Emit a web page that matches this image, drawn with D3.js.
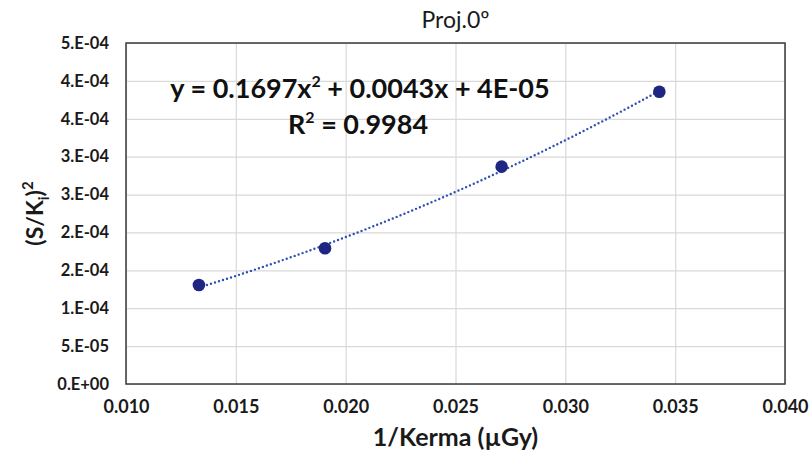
<!DOCTYPE html>
<html>
<head>
<meta charset="utf-8">
<script src="https://cdn.jsdelivr.net/npm/d3@7"></script>
<style>
  body { margin: 0; background: #fff; }
  svg { display: block; }
</style>
</head>
<body>
<div id="chart"></div>
<script>
// data
const kermaInv = [0.01332, 0.01906, 0.02710, 0.03428];
const signalRatio = [1.306e-4, 1.791e-4, 2.868e-4, 3.857e-4];
const xTicks = [0.010, 0.015, 0.020, 0.025, 0.030, 0.035, 0.040];
const yTicks = [0, 5e-5, 1e-4, 1.5e-4, 2e-4, 2.5e-4, 3e-4, 3.5e-4, 4e-4, 4.5e-4];
const yTickLabels = ['0.E+00', '5.E-05', '1.E-04', '2.E-04', '2.E-04', '3.E-04', '3.E-04', '4.E-04', '4.E-04', '5.E-04'];
// polynomial trendline coefficients (a x^2 + b x + c)
const trendCoef = [0.1697, 0.0043, 4e-5];

const width = 810, height = 456;
const margin = {top: 43, right: 25, bottom: 72, left: 126};
const innerW = width - margin.left - margin.right;
const innerH = height - margin.top - margin.bottom;
const font = 'Lato, "Open Sans", sans-serif';

const xScale = d3.scaleLinear().domain([0.010, 0.040]).range([0, innerW]);
const yScale = d3.scaleLinear().domain([0, 4.5e-4]).range([innerH, 0]);

const svg = d3.select('#chart')
  .append('svg')
    .attr('width', width)
    .attr('height', height);

const g = svg.append('g')
  .attr('transform', `translate(${margin.left},${margin.top})`);

// gridlines
g.append('g')
  .attr('class', 'grid-x')
  .call(d3.axisBottom(xScale).tickValues(xTicks).tickSize(innerH).tickFormat(''))
  .call(s => s.select('.domain').remove())
  .call(s => s.selectAll('line').attr('stroke', '#d9d9d9').attr('stroke-width', 1.2));

g.append('g')
  .attr('class', 'grid-y')
  .call(d3.axisLeft(yScale).tickValues(yTicks).tickSize(-innerW).tickFormat(''))
  .call(s => s.select('.domain').remove())
  .call(s => s.selectAll('line').attr('stroke', '#d9d9d9').attr('stroke-width', 1.2));

// frame
g.append('rect')
  .attr('width', innerW)
  .attr('height', innerH)
  .attr('fill', 'none')
  .attr('stroke', '#3a3a3a')
  .attr('stroke-width', 1.5);

// tick labels
const xAxis = g.append('g')
  .attr('transform', `translate(0,${innerH})`)
  .call(d3.axisBottom(xScale).tickValues(xTicks).tickSize(0).tickPadding(16).tickFormat(d3.format('.3f')));
xAxis.select('.domain').remove();
xAxis.selectAll('text')
  .attr('font-family', font)
  .attr('font-weight', 'bold')
  .attr('font-size', '18px')
  .attr('fill', '#1a1a1a');

const yAxis = g.append('g')
  .call(d3.axisLeft(yScale).tickValues(yTicks).tickSize(0).tickPadding(17).tickFormat((d, i) => yTickLabels[i]));
yAxis.select('.domain').remove();
yAxis.selectAll('text')
  .attr('font-family', font)
  .attr('font-weight', 'bold')
  .attr('font-size', '16.5px')
  .attr('fill', '#1a1a1a');

// trendline
const trend = x => trendCoef[0] * x * x + trendCoef[1] * x + trendCoef[2];
const xs = d3.range(0, 41).map(i => kermaInv[0] + (kermaInv[kermaInv.length - 1] - kermaInv[0]) * i / 40);
g.append('path')
  .datum(xs)
  .attr('fill', 'none')
  .attr('stroke', '#2f4fb5')
  .attr('stroke-width', 2.4)
  .attr('stroke-linecap', 'round')
  .attr('stroke-dasharray', '0,4.2')
  .attr('d', d3.line().x(d => xScale(d)).y(d => yScale(trend(d))));

// points
g.selectAll('circle.pt')
  .data(kermaInv)
  .join('circle')
    .attr('class', 'pt')
    .attr('cx', d => xScale(d))
    .attr('cy', (d, i) => yScale(signalRatio[i]))
    .attr('r', 6.3)
    .attr('fill', '#1f2583');

// equation label
const eq = svg.append('text')
  .attr('x', 360)
  .attr('y', 98)
  .attr('text-anchor', 'middle')
  .attr('font-family', font)
  .attr('font-weight', 'bold')
  .attr('font-size', '27px')
  .attr('fill', '#111');
eq.append('tspan').text('y = 0.1697x');
eq.append('tspan').attr('font-size', '16px').attr('dy', -11).text('2');
eq.append('tspan').attr('dy', 11).text(' + 0.0043x + 4E-05');

const r2 = svg.append('text')
  .attr('x', 358)
  .attr('y', 134)
  .attr('text-anchor', 'middle')
  .attr('font-family', font)
  .attr('font-weight', 'bold')
  .attr('font-size', '27px')
  .attr('fill', '#111');
r2.append('tspan').text('R');
r2.append('tspan').attr('font-size', '16px').attr('dy', -11).text('2');
r2.append('tspan').attr('dy', 11).text(' = 0.9984');

// title
svg.append('text')
  .attr('x', margin.left + innerW / 2)
  .attr('y', 28)
  .attr('text-anchor', 'middle')
  .attr('font-family', font)
  .attr('font-size', '23px')
  .attr('fill', '#1a1a1a')
  .text('Proj.0º');

// x axis title
svg.append('text')
  .attr('x', margin.left + innerW / 2)
  .attr('y', 446)
  .attr('text-anchor', 'middle')
  .attr('font-family', font)
  .attr('font-weight', 'bold')
  .attr('font-size', '25px')
  .attr('fill', '#1a1a1a')
  .text('1/Kerma (µGy)');

// y axis title
const yTitle = svg.append('text')
  .attr('transform', `translate(43,${margin.top + innerH / 2}) rotate(-90)`)
  .attr('text-anchor', 'middle')
  .attr('font-family', font)
  .attr('font-weight', 'bold')
  .attr('font-size', '23px')
  .attr('fill', '#1a1a1a');
yTitle.append('tspan').text('(S/K');
yTitle.append('tspan').attr('font-size', '15px').attr('dy', 6).text('i');
yTitle.append('tspan').attr('dy', -6).text(')');
yTitle.append('tspan').attr('font-size', '15px').attr('dy', -10).text('2');
</script>
</body>
</html>
